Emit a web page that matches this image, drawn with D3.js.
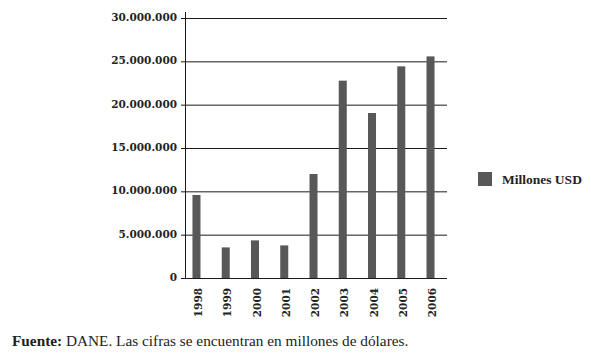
<!DOCTYPE html>
<html>
<head>
<meta charset="utf-8">
<script src="https://cdn.jsdelivr.net/npm/d3@7"></script>
<style>
  html, body { margin: 0; padding: 0; background: #fff; }
  svg { display: block; }
</style>
</head>
<body>
<svg id="chart" width="591" height="354"></svg>
<script>
"use strict";

// datos (millones USD)
const years = ["1998", "1999", "2000", "2001", "2002", "2003", "2004", "2005", "2006"];
const values = [9580000, 3530000, 4340000, 3760000, 12000000, 22770000, 19040000, 24420000, 25570000];
const yTicks = [0, 5000000, 10000000, 15000000, 20000000, 25000000, 30000000];
const seriesName = "Millones USD";
const sourceBold = "Fuente:";
const sourceText = " DANE. Las cifras se encuentran en millones de dólares.";

const svg = d3.select("#chart");
const plotLeft = 185, plotRight = 447, plotTop = 18, plotBottom = 278;
const barColor = "#585858";
const serif = "'DejaVu Serif', serif";

// formato con punto como separador de miles
const esFmt = d3.formatLocale({ decimal: ",", thousands: ".", grouping: [3], currency: ["$", ""] }).format(",d");

const x = d3.scaleBand().domain(years).range([182, 445]).paddingInner(0.726).paddingOuter(0.358);
const y = d3.scaleLinear().domain([0, 30000000]).range([plotBottom, plotTop]);

// líneas de cuadrícula
svg.append("g")
  .attr("transform", `translate(${plotLeft},0)`)
  .call(d3.axisLeft(y).tickValues(yTicks).tickSize(-(plotRight - plotLeft)).tickFormat(""))
  .call((g) => g.select(".domain").remove())
  .call((g) => g.selectAll("line").attr("stroke", "#1a1a1a").attr("stroke-width", 1));

// barras
svg.append("g")
  .selectAll("rect")
  .data(years)
  .join("rect")
  .attr("x", (d) => x(d))
  .attr("y", (d, i) => y(values[i]))
  .attr("width", x.bandwidth())
  .attr("height", (d, i) => plotBottom - y(values[i]))
  .attr("fill", barColor);

// eje y con etiquetas
const yAxis = svg.append("g")
  .attr("transform", `translate(${plotLeft},0)`)
  .call(d3.axisLeft(y).tickValues(yTicks).tickSize(4).tickPadding(4).tickFormat(esFmt));
yAxis.select(".domain").remove();
yAxis.selectAll("line").attr("stroke", "#1a1a1a");
yAxis.selectAll("text")
  .attr("font-family", serif)
  .attr("font-weight", "bold")
  .attr("font-size", "10.5px")
  .attr("fill", "#222")
  .attr("dy", "0.25em");

// línea vertical del eje
svg.append("line")
  .attr("x1", plotLeft + 0.5).attr("x2", plotLeft + 0.5)
  .attr("y1", 12).attr("y2", plotBottom + 0.5)
  .attr("stroke", "#1a1a1a");

// eje x: etiquetas giradas
const xAxis = svg.append("g")
  .attr("transform", `translate(0,${plotBottom})`)
  .call(d3.axisBottom(x).tickSize(0).tickPadding(0));
xAxis.select(".domain").remove();
xAxis.selectAll("text")
  .attr("font-family", serif)
  .attr("font-weight", "bold")
  .attr("font-size", "10.5px")
  .attr("fill", "#222")
  .attr("text-anchor", "end")
  .attr("transform", "translate(2,10) rotate(-90)")
  .attr("x", 0)
  .attr("y", 0)
  .attr("dy", "0.35em");

// leyenda
const legend = svg.append("g").attr("transform", "translate(478,172)");
legend.append("rect").attr("width", 14).attr("height", 14).attr("fill", barColor);
legend.append("text")
  .attr("x", 24).attr("y", 7).attr("dy", "0.35em")
  .attr("font-family", "'Liberation Serif', serif")
  .attr("font-weight", "bold")
  .attr("font-size", "13.5px")
  .attr("fill", "#222")
  .text(seriesName);

// fuente
const src = svg.append("text")
  .attr("x", 12).attr("y", 346)
  .attr("font-family", "'Liberation Serif', serif")
  .attr("font-size", "15.3px")
  .attr("fill", "#222");
src.append("tspan").attr("font-weight", "bold").text(sourceBold);
src.append("tspan").text(sourceText);
</script>
</body>
</html>
